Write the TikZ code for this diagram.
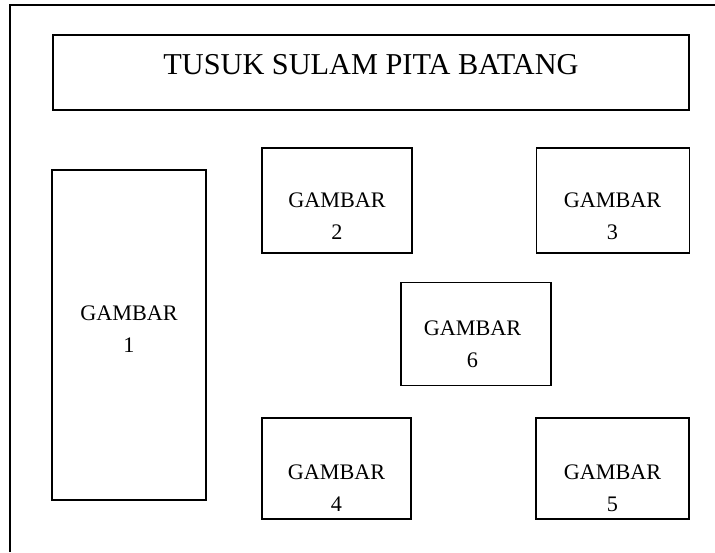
\documentclass[tikz,border=0pt]{standalone}
\usepackage{fontspec}
\setmainfont{Liberation Serif}
\usepackage{tikz}
\usetikzlibrary{
  positioning
}
\tikzset{
  x=1pt, y=-1pt,
  kotak/.style={draw, line width=1.4pt, rectangle, inner sep=0pt},
  teks/.style={inner sep=0pt, align=center, font=\fontsize{22.2}{32}\selectfont},
  judul/.style={inner sep=0pt, font=\fontsize{30.3}{36}\selectfont}
}

\begin{document}
\begin{tikzpicture}
    \useasboundingbox (0,0) rectangle (715,552);
    \draw[line width=1.4pt] (10,552) -- (10,5) -- (715,5);
    \node[kotak, minimum width=636, minimum height=75] (jdl) at (371,72.5) {};
    \node[kotak, minimum width=154, minimum height=330] (g1) at (129,335) {};
    \node[kotak, minimum width=150, minimum height=105] (g2) at (337,200.5) {};
    \node[kotak, minimum width=153, minimum height=105] (g3) at (613,200.5) {};
    \node[kotak, minimum width=150, minimum height=103] (g6) at (476,334) {};
    \node[kotak, minimum width=149, minimum height=101] (g4) at (336.5,468.5) {};
    \node[kotak, minimum width=153, minimum height=101] (g5) at (612.5,468.5) {};
    \node[judul, anchor=base] (tjdl) at (371,74.5) {TUSUK SULAM PITA BATANG};
    \node[teks] (t1) at (129,329) {GAMBAR\\1};
    \node[teks] (t2) at (337,216) {GAMBAR\\2};
    \node[teks] (t3) at (612.5,216) {GAMBAR\\3};
    \node[teks] (t6) at (472.5,344) {GAMBAR\\6};
    \node[teks] (t4) at (336.5,488) {GAMBAR\\4};
    \node[teks] (t5) at (612.5,488) {GAMBAR\\5};
  \end{tikzpicture}
\end{document}
